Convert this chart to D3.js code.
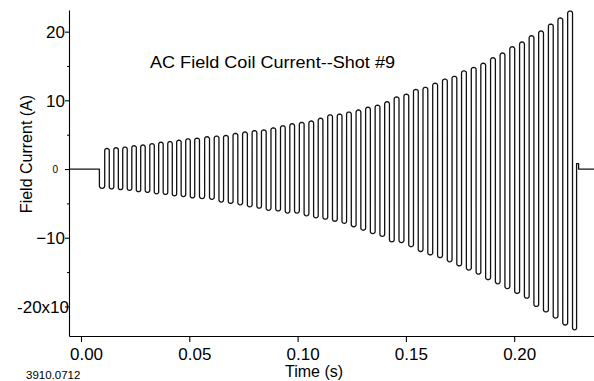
<!DOCTYPE html>
<html>
<head>
<meta charset="utf-8">
<script src="https://cdn.jsdelivr.net/npm/d3@7/dist/d3.min.js"></script>
<style>
  html, body { margin: 0; padding: 0; background: #fff; }
  svg { display: block; font-family: "Liberation Sans", Arial, sans-serif; }
</style>
</head>
<body>
<div id="chart"></div>
<script>
// times (s) of the positive half-cycle peaks
var humpTimes = [
  0.0120, 0.0162, 0.0203, 0.0245, 0.0286, 0.0328, 0.0369, 0.0411, 0.0452, 0.0494,
  0.0536, 0.0582, 0.0626, 0.0669, 0.0713, 0.0757, 0.0801, 0.0844, 0.0888, 0.0932,
  0.0975, 0.1019, 0.1063, 0.1106, 0.1150, 0.1194, 0.1237, 0.1281, 0.1325, 0.1369,
  0.1413, 0.1457, 0.1502, 0.1546, 0.1590, 0.1635, 0.1680, 0.1724, 0.1768, 0.1813,
  0.1857, 0.1902, 0.1946, 0.1991, 0.2036, 0.2080, 0.2124, 0.2169, 0.2213, 0.2258
];
// positive peak current (A) of each half-cycle
var humpPeaks = [
  3.0, 3.1, 3.2, 3.4, 3.5, 3.7, 3.9, 4.0, 4.2, 4.4,
  4.5, 4.7, 4.8, 4.9, 5.2, 5.4, 5.6, 5.7, 6.0, 6.3,
  6.6, 6.8, 7.0, 7.4, 7.9, 8.0, 8.3, 8.6, 9.0, 9.3,
  9.8, 10.5, 10.9, 11.6, 11.9, 12.5, 13.1, 13.5, 14.3, 14.8,
  15.4, 16.2, 16.9, 17.8, 18.5, 19.4, 20.1, 21.1, 22.0, 23.0
];
// negative peak current (A): one before the first hump, then one after each hump
var troughPeaks = [
  -2.8,
  -2.9, -3.0, -3.1, -3.3, -3.4, -3.6, -3.7, -3.9, -4.0, -4.2,
  -4.3, -4.4, -4.8, -5.0, -5.2, -5.5, -5.7, -6.0, -6.1, -6.4,
  -6.4, -6.8, -7.1, -7.3, -7.6, -7.9, -8.4, -8.9, -9.4, -9.8,
  -10.6, -10.7, -11.3, -12.0, -12.5, -12.9, -13.5, -14.1, -14.7, -15.3,
  -16.1, -16.7, -17.4, -18.1, -18.8, -20.0, -20.8, -21.7, -22.7, -23.4
];
var tOn = 0.0085, tOff = 0.2288;

var yTicks = [-20, -10, 0, 10, 20];
var yMinor = [-15, -5, 5, 15];
var xTicks = [0.00, 0.05, 0.10, 0.15, 0.20];

var W = 594, H = 381;
var svg = d3.select("#chart").append("svg").attr("width", W).attr("height", H);

var x = d3.scaleLinear().domain([-0.00554, 0.23684]).range([69, 594]);
var y = d3.scaleLinear().domain([-24.3, 23.15]).range([336, 10]);

// axes
var yAxis = svg.append("g").attr("transform", "translate(69,0)")
  .call(d3.axisLeft(y).tickValues(yTicks).tickSize(4).tickSizeOuter(0)
    .tickFormat(function (d) { return d === -20 ? "-20x10" : d3.format("d")(d); }));
yAxis.select(".domain").attr("stroke", "#000").attr("stroke-width", 1.1);
yAxis.selectAll(".tick line").attr("stroke", "#000").attr("stroke-width", 1.1);
yAxis.selectAll(".tick text")
  .attr("dy", "0.36em")
  .style("font-size", function (d) { return d === 0 ? "10px" : "17px"; })
  .attr("fill", "#000")
  .attr("x", function (d) { return d === 0 ? -11 : (d === -20 ? 0 : -4); });

svg.append("g").attr("transform", "translate(69,0)")
  .call(d3.axisLeft(y).tickValues(yMinor).tickSize(2).tickFormat(""))
  .call(function (g) { g.select(".domain").remove(); })
  .selectAll(".tick line").attr("stroke", "#000");

var xAxis = svg.append("g").attr("transform", "translate(0,336)")
  .call(d3.axisBottom(x).tickValues(xTicks).tickSize(6).tickSizeOuter(0)
    .tickFormat(d3.format(".2f")));
xAxis.select(".domain").attr("stroke", "#000").attr("stroke-width", 1.1);
xAxis.selectAll(".tick line").attr("stroke", "#000").attr("stroke-width", 1.1);
xAxis.selectAll(".tick text")
  .attr("y", 12).attr("dx", 5).attr("dy", "0.71em")
  .style("font-size", "17px").attr("fill", "#000");

// build the trace: flat zero, then square-ish half cycles with rounded ends
var pts = [[x.range()[0], y(0)], [x(tOn), y(0)]];

function halfCycle(t0, t1, v) {
  var xa = x(t0), xb = x(t1);
  var r = (xb - xa) / 2, cx = (xa + xb) / 2, py = y(v);
  var s = v > 0 ? 1 : -1;
  for (var k = 0; k <= 8; k++) {
    var th = Math.PI - k * Math.PI / 8;
    pts.push([cx + r * Math.cos(th), py + s * r * 0.9 * (1 - Math.sin(th))]);
  }
}

var n = humpTimes.length;
var rises = [], falls = [];
for (var i = 0; i < n; i++) {
  var prev = i > 0 ? humpTimes[i - 1] : 2 * humpTimes[0] - humpTimes[1];
  var next = i < n - 1 ? humpTimes[i + 1] : 2 * humpTimes[n - 1] - humpTimes[n - 2];
  var w = (next - prev) / 4;
  rises.push(humpTimes[i] - w / 2);
  falls.push(humpTimes[i] + w / 2);
}

halfCycle(tOn, rises[0], troughPeaks[0]);
for (var j = 0; j < n; j++) {
  halfCycle(rises[j], falls[j], humpPeaks[j]);
  halfCycle(falls[j], j < n - 1 ? rises[j + 1] : tOff, troughPeaks[j + 1]);
}
pts.push([x(tOff), y(0.8)]);
pts.push([x(tOff) + 2, y(0.8)]);
pts.push([x(tOff) + 2, y(0)]);
pts.push([x.range()[1], y(0)]);

svg.append("path")
  .attr("d", d3.line()(pts))
  .attr("fill", "none")
  .attr("stroke", "#111")
  .attr("stroke-width", 1.3)
  .attr("stroke-linejoin", "round");

// texts
svg.append("text").attr("x", 150).attr("y", 68)
  .attr("textLength", 245).attr("lengthAdjust", "spacingAndGlyphs")
  .style("font-size", "17px").text("AC Field Coil Current--Shot #9");

svg.append("text").attr("x", 314).attr("y", 377).attr("text-anchor", "middle")
  .style("font-size", "16px").text("Time (s)");

svg.append("text").attr("transform", "translate(32,154) rotate(-90)")
  .attr("text-anchor", "middle").style("font-size", "16px").text("Field Current (A)");

svg.append("text").attr("x", 26).attr("y", 379)
  .style("font-size", "11.5px").text("3910.0712");
</script>
</body>
</html>
